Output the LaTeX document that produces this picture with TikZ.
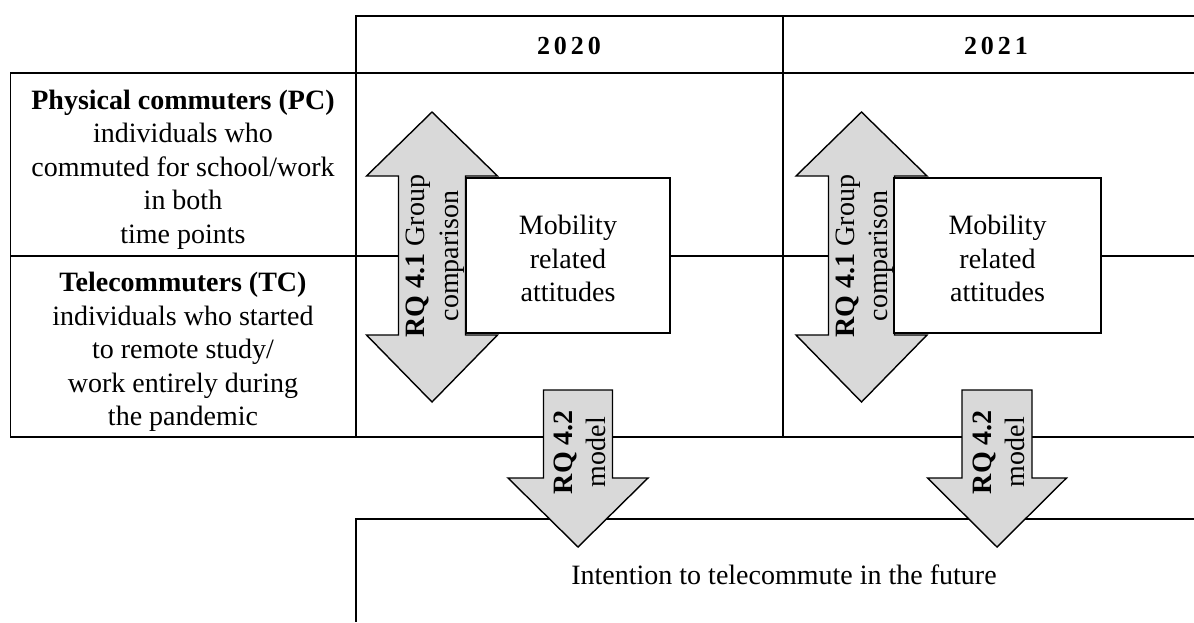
\documentclass[tikz,border=0pt]{standalone}
\usepackage{fontspec}
\setmainfont{Liberation Serif}
\definecolor{arrowgray}{HTML}{D9D9D9}
\begin{document}
\begin{tikzpicture}[x=1pt,y=-1pt,
  rule/.style={line width=1.8pt},
  txt/.style={align=center,inner sep=0pt,font=\fontsize{28}{33.5}\selectfont},
  yearlabel/.style={inner sep=0pt,font=\fontsize{26}{30}\selectfont\bfseries},
  attbox/.style={draw,line width=1.8pt,fill=white,inner sep=0pt,minimum height=155pt},
  bigarrow/.style={draw,line width=1.4pt,fill=arrowgray,line join=miter},
  arrowtxt/.style={rotate=90,align=center,inner sep=0pt,font=\fontsize{28}{33.5}\selectfont}
]
\useasboundingbox (0,0) rectangle (1194,622);

% table frame
\draw[rule] (356,16) -- (1194,16);
\draw[rule] (10.5,73) -- (1194,73);
\draw[rule] (10.5,256) -- (1194,256);
\draw[rule] (10.5,437) -- (1194,437);
\draw[rule] (10.5,72.1) -- (10.5,437.9);
\draw[rule] (356,15.1) -- (356,437.9);
\draw[rule] (783,15.1) -- (783,437.9);
% outcome panel
\draw[rule] (1194,519) -- (356,519) -- (356,622);

% column headings
\node[yearlabel] (y20) at (569,45.5) {2\kern4pt0\kern4pt2\kern4pt0};
\node[yearlabel] (y21) at (996,45.5) {2\kern4pt0\kern4pt2\kern4pt1};

% row headings
\node[txt] (pc) at (183,169.5) {\textbf{Physical commuters (PC)}\\individuals who\\commuted for school/work\\in both\\time points};
\node[txt] (tc) at (183,352) {\textbf{Telecommuters (TC)}\\individuals who started\\to remote study/\\work entirely during\\the pandemic};

% group comparison arrows
\draw[bigarrow] (432,112) -- (497.5,176) -- (465.5,176) -- (465.5,335) -- (497.5,335)
  -- (432,402) -- (366.5,335) -- (398.5,335) -- (398.5,176) -- (366.5,176) -- cycle;
\draw[bigarrow] (861.5,112) -- (927,176) -- (894.5,176) -- (894.5,335) -- (927,335)
  -- (861.5,402) -- (796,335) -- (828.5,335) -- (828.5,176) -- (796,176) -- cycle;
\node[arrowtxt] (rq41a) at (435,256) {\textbf{RQ 4.1} Group\\comparison};
\node[arrowtxt] (rq41b) at (864.5,256) {\textbf{RQ 4.1} Group\\comparison};

% attitude boxes
\node[attbox,minimum width=204pt] (att20) at (568,255.5) {};
\node[attbox,minimum width=207pt] (att21) at (997.5,255.5) {};
\node[txt] (att20txt) at (568,258.5) {Mobility\\related\\attitudes};
\node[txt] (att21txt) at (997.5,258.5) {Mobility\\related\\attitudes};

% model arrows
\draw[bigarrow] (543.5,390) -- (612.5,390) -- (612.5,478) -- (648,478) -- (578,547)
  -- (508,478) -- (543.5,478) -- cycle;
\draw[bigarrow] (962,390) -- (1032,390) -- (1032,478) -- (1066.5,478) -- (997,547)
  -- (927.5,478) -- (962,478) -- cycle;
\node[arrowtxt] (rq42a) at (580,452) {\textbf{RQ 4.2}\\model};
\node[arrowtxt] (rq42b) at (999,452) {\textbf{RQ 4.2}\\model};

% outcome
\node[txt] (intent) at (784,575) {Intention to telecommute in the future};
\end{tikzpicture}
\end{document}
